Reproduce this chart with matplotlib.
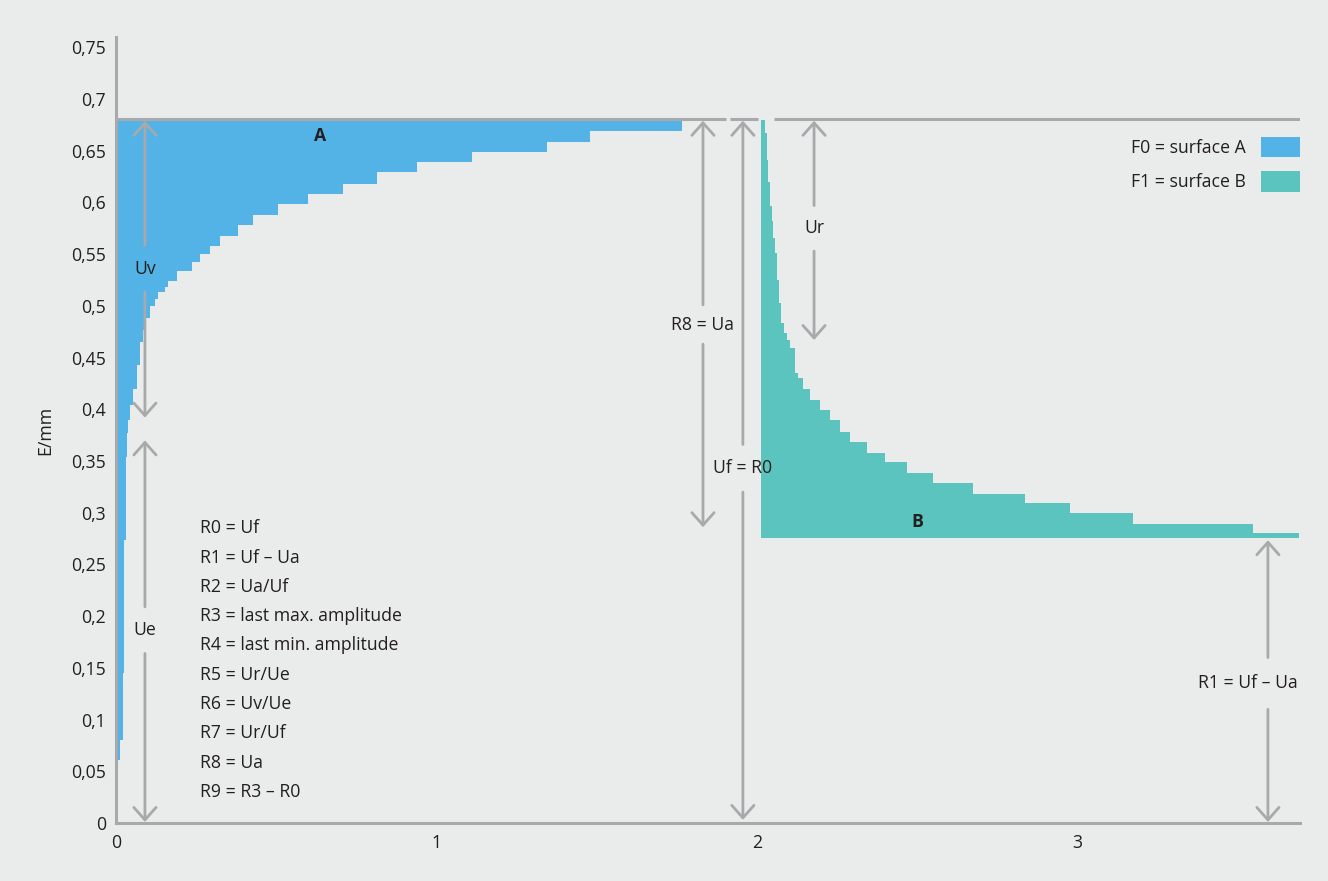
import numpy as np
import matplotlib.pyplot as plt
from matplotlib.patches import Patch

plt.rcParams['font.family'] = ['Open Sans', 'DejaVu Sans']

# surface A: step edges along x and lower level of each step (E/mm)
a_edges = [0.002, 0.007, 0.013, 0.021, 0.026, 0.031, 0.034, 0.037, 0.044, 0.053,
           0.066, 0.075, 0.084, 0.094, 0.106, 0.122, 0.131, 0.153, 0.162, 0.190,
           0.237, 0.262, 0.293, 0.325, 0.381, 0.428, 0.506, 0.599, 0.708, 0.814,
           0.939, 1.111, 1.345, 1.479, 1.766]
a_levels = [0.020, 0.061, 0.080, 0.145, 0.274, 0.354, 0.377, 0.390, 0.404, 0.420,
            0.443, 0.465, 0.477, 0.488, 0.500, 0.507, 0.513, 0.518, 0.524, 0.534,
            0.542, 0.550, 0.558, 0.568, 0.578, 0.588, 0.599, 0.608, 0.618, 0.629,
            0.639, 0.649, 0.658, 0.669]

# surface B: step edges along x and upper level of each step (E/mm)
b_edges = [2.013, 2.025, 2.030, 2.035, 2.041, 2.046, 2.051, 2.056, 2.063, 2.069,
           2.075, 2.083, 2.094, 2.103, 2.119, 2.128, 2.144, 2.165, 2.197, 2.228,
           2.259, 2.290, 2.343, 2.399, 2.468, 2.549, 2.674, 2.836, 2.977, 3.173,
           3.548, 3.691]
b_levels = [0.680, 0.667, 0.641, 0.620, 0.597, 0.582, 0.566, 0.551, 0.525, 0.503,
            0.483, 0.474, 0.467, 0.459, 0.435, 0.430, 0.420, 0.409, 0.399, 0.390,
            0.378, 0.368, 0.358, 0.349, 0.338, 0.329, 0.318, 0.309, 0.300, 0.289,
            0.280]

top_level = 0.681
b_floor = 0.276

y_ticks = [0, 0.05, 0.1, 0.15, 0.2, 0.25, 0.3, 0.35, 0.4, 0.45, 0.5, 0.55, 0.6,
           0.65, 0.7, 0.75]
y_labels = ['0', '0,05', '0,1', '0,15', '0,2', '0,25', '0,3', '0,35', '0,4',
            '0,45', '0,5', '0,55', '0,6', '0,65', '0,7', '0,75']
x_ticks = [0, 1, 2, 3]

notes = ['R0 = Uf', 'R1 = Uf \u2013 Ua', 'R2 = Ua/Uf', 'R3 = last max. amplitude',
         'R4 = last min. amplitude', 'R5 = Ur/Ue', 'R6 = Uv/Ue', 'R7 = Ur/Uf',
         'R8 = Ua', 'R9 = R3 \u2013 R0']

blue = '#53b3e6'
teal = '#5cc4bf'
grey = '#a8a9ab'
bg = '#eaebeb'
ink = '#231f20'
fs = 12.7

fig = plt.figure(figsize=(13.28, 8.81), dpi=100, facecolor=bg)
ax = fig.add_axes([0.0873, 0.0658, 0.8916, 0.8922], facecolor=bg)

ax.stairs(a_levels, a_edges, baseline=top_level, fill=True, color=blue, lw=0, zorder=2)
ax.stairs(b_levels, b_edges, baseline=b_floor, fill=True, color=teal, lw=0, zorder=2)

# horizontal reference line at the top with its small breaks
for x0, x1 in [(0, 1.903), (1.916, 2.003), (2.053, 3.694)]:
    ax.plot([x0, x1], [top_level, top_level], color=grey, lw=2.2,
            solid_capstyle='butt', zorder=3)


def measure(x, y_top, y_bot, label, y_lab, gap, x_lab=None):
    style = dict(arrowstyle='->,head_length=0.45,head_width=0.4', color=grey,
                 lw=2.0, shrinkA=0, shrinkB=0, mutation_scale=20)
    ax.annotate('', xy=(x, y_top), xytext=(x, y_lab + gap), arrowprops=style, zorder=4)
    ax.annotate('', xy=(x, y_bot), xytext=(x, y_lab - gap), arrowprops=style, zorder=4)
    ax.text(x if x_lab is None else x_lab, y_lab, label, ha='center', va='center',
            fontsize=fs, color=ink, zorder=5)


measure(0.0905, 0.679, 0.392, 'Uv', 0.536, 0.0225)
measure(0.0905, 0.370, 0.001, 'Ue', 0.1865, 0.0225)
measure(1.8315, 0.679, 0.286, 'R8 = Ua', 0.482, 0.019)
measure(1.956, 0.679, 0.003, 'Uf = R0', 0.343, 0.023)
measure(2.178, 0.679, 0.467, 'Ur', 0.575, 0.022)
measure(3.594, 0.2735, 0.001, 'R1 = Uf \u2013 Ua', 0.135, 0.025, x_lab=3.532)

ax.text(0.636, 0.664, 'A', ha='center', va='center', fontsize=fs,
        fontweight='bold', color=ink, zorder=5)
ax.text(2.499, 0.291, 'B', ha='center', va='center', fontsize=fs,
        fontweight='bold', color=ink, zorder=5)

for i, line in enumerate(notes):
    ax.text(0.262, 0.285 - i * 0.02832, line, ha='left', va='center',
            fontsize=fs, color=ink)

handles = [Patch(facecolor=blue, label='F0 = surface A'),
           Patch(facecolor=teal, label='F1 = surface B')]
ax.legend(handles=handles, loc='upper right', bbox_to_anchor=(1.0, 0.873),
          frameon=False, markerfirst=False, fontsize=fs, handlelength=2.2,
          handleheight=1.4, handletextpad=0.9, labelspacing=0.8,
          borderpad=0, borderaxespad=0, labelcolor=ink)

ax.set_xlim(0, 3.694)
ax.set_ylim(0, 0.76)
ax.set_yticks(y_ticks)
ax.set_yticklabels(y_labels)
ax.set_xticks(x_ticks)
ax.tick_params(length=0, labelsize=fs, colors=ink, pad=7)
ax.tick_params(axis='x', pad=8)
ax.set_ylabel('E/mm', fontsize=fs, color=ink, labelpad=12)

for side in ['top', 'right']:
    ax.spines[side].set_visible(False)
for side in ['left', 'bottom']:
    ax.spines[side].set_color(grey)
    ax.spines[side].set_linewidth(2.2)

fig.savefig('out.png', dpi=100, facecolor=bg)
